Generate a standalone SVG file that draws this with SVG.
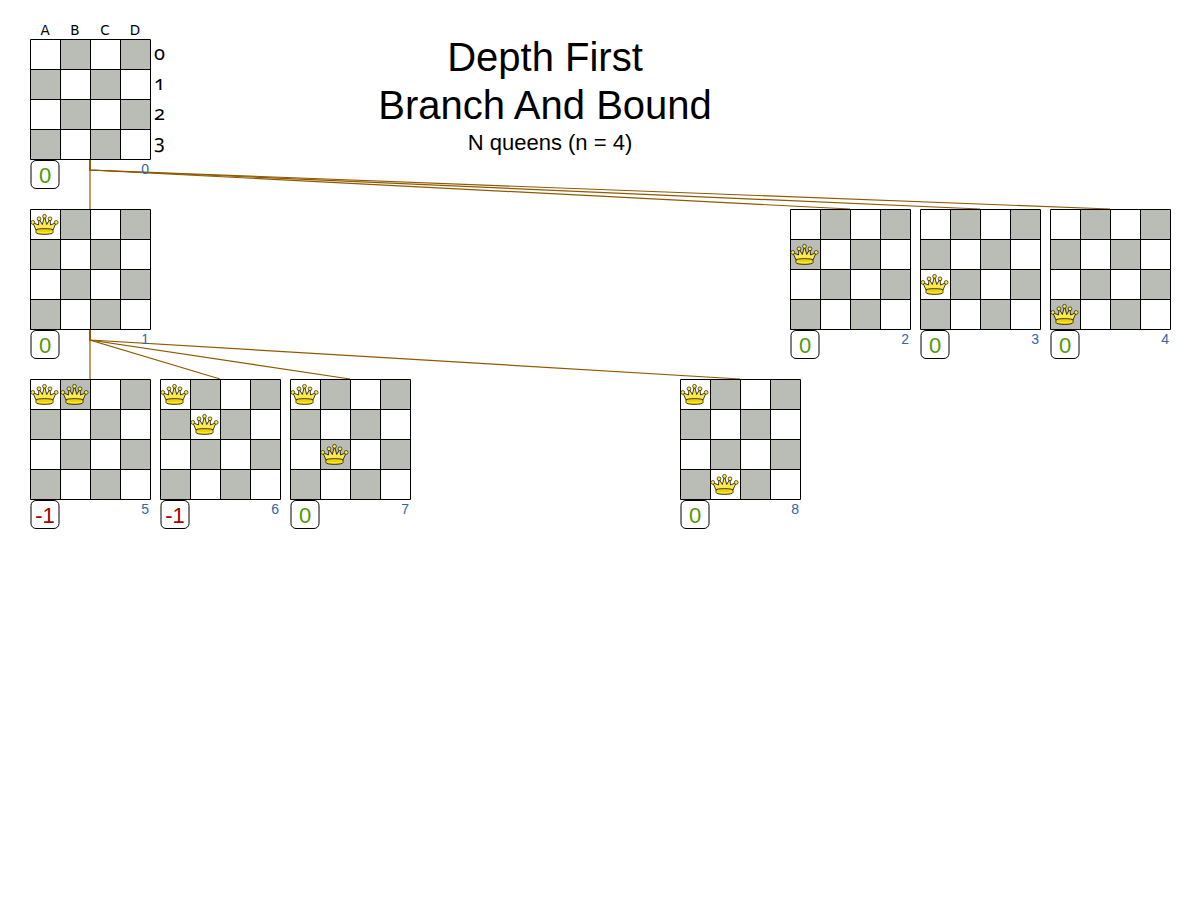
<svg xmlns="http://www.w3.org/2000/svg" width="1200" height="900" viewBox="0 0 1200 900">
<style>
.title{font-family:"Liberation Sans",Arial,sans-serif;fill:#000;text-anchor:middle}
.col{font-family:"DejaVu Sans",sans-serif;font-size:13.5px;fill:#000;text-anchor:middle}
.row{font-family:"Noto Sans","DejaVu Sans",sans-serif;font-size:20px;fill:#000;font-feature-settings:"onum";font-variant-numeric:oldstyle-nums}
.score{fill:#fff;stroke:#000;stroke-width:1}
.sg{font-family:"Liberation Sans",Arial,sans-serif;font-size:22px;fill:#4e9a06;text-anchor:middle}
.sr{font-family:"Liberation Sans",Arial,sans-serif;font-size:22px;fill:#a40000;text-anchor:middle}
.id{font-family:"Liberation Sans",Arial,sans-serif;font-size:14px;fill:#3465a4;text-anchor:end}
.conn{fill:none;stroke:#8f5902;stroke-width:1.2}
</style>
<defs>
<g id="board">
<rect x="0" y="0" width="120" height="120" fill="#fff"/>
<g fill="#babdb6">
<rect x="30" y="0" width="30" height="30"/><rect x="90" y="0" width="30" height="30"/>
<rect x="0" y="30" width="30" height="30"/><rect x="60" y="30" width="30" height="30"/>
<rect x="30" y="60" width="30" height="30"/><rect x="90" y="60" width="30" height="30"/>
<rect x="0" y="90" width="30" height="30"/><rect x="60" y="90" width="30" height="30"/>
</g>
<path d="M0 0H120V120H0Z M30 0V120 M60 0V120 M90 0V120 M0 30H120 M0 60H120 M0 90H120" fill="none" stroke="#000" stroke-width="1"/>
</g>
<symbol id="queen" viewBox="0 0 30 30" width="30" height="30">
<path d="M6 21 L2.8 13.6 L8.5 16 L9 9.8 L12.3 15.5 L14.5 7.3 L16.7 15.5 L20 9.8 L20.5 16 L26.2 13.6 L23 21 Z" fill="#fce94f" stroke="#000" stroke-width="0.75" stroke-linejoin="round"/>
<path d="M6 21 C6 19.2 23 19.2 23 21 L23 23.5 C23 26 6 26 6 23.5 Z" fill="#edd400" stroke="#000" stroke-width="0.75"/>
<path d="M6.6 22.7 C10 24 19 24 22.4 22.7" fill="none" stroke="#fce94f" stroke-width="1"/>
<g fill="#fce94f" stroke="#000" stroke-width="0.6">
<circle cx="2.8" cy="13.4" r="1.9"/><circle cx="9" cy="9.8" r="1.9"/><circle cx="14.5" cy="7.3" r="1.9"/><circle cx="20" cy="9.8" r="1.9"/><circle cx="26.2" cy="13.4" r="1.9"/>
</g>
</symbol>
</defs>
<rect width="1200" height="900" fill="#fff"/>
<g id="title">
<text class="title" x="545" y="71" font-size="40">Depth First</text>
<text class="title" x="545" y="119" font-size="40">Branch And Bound</text>
<text class="title" x="550" y="150" font-size="22">N queens (n = 4)</text>
</g>
<g id="connectors">
<path class="conn" d="M90 159V170L90 209"/>
<path class="conn" d="M90 159V170L850 209"/>
<path class="conn" d="M90 159V170L980 209"/>
<path class="conn" d="M90 159V170L1110 209"/>
<path class="conn" d="M90 329V340L90 379"/>
<path class="conn" d="M90 329V340L220 379"/>
<path class="conn" d="M90 329V340L350 379"/>
<path class="conn" d="M90 329V340L740 379"/>
</g>
<g id="labels">
<text class="col" x="45" y="35">A</text><text class="col" x="75" y="35">B</text><text class="col" x="105" y="35">C</text><text class="col" x="135" y="35">D</text>
<text class="row" x="154" y="60">0</text><text class="row" x="154" y="90">1</text><text class="row" x="154" y="120">2</text><text class="row" x="154" y="149">3</text>
</g>
<g id="node0">
<use href="#board" transform="translate(30.5,39.5)"/>
<rect class="score" x="31" y="160.5" width="28" height="28" rx="5"/>
<text class="sg" x="45" y="183">0</text>
<text class="id" x="149" y="174">0</text>
</g>
<g id="node1">
<use href="#board" transform="translate(30.5,209.5)"/>
<use href="#queen" x="30" y="209"/>
<rect class="score" x="31" y="330.5" width="28" height="28" rx="5"/>
<text class="sg" x="45" y="353">0</text>
<text class="id" x="149" y="344">1</text>
</g>
<g id="node2">
<use href="#board" transform="translate(790.5,209.5)"/>
<use href="#queen" x="790" y="239"/>
<rect class="score" x="791" y="330.5" width="28" height="28" rx="5"/>
<text class="sg" x="805" y="353">0</text>
<text class="id" x="909" y="344">2</text>
</g>
<g id="node3">
<use href="#board" transform="translate(920.5,209.5)"/>
<use href="#queen" x="920" y="269"/>
<rect class="score" x="921" y="330.5" width="28" height="28" rx="5"/>
<text class="sg" x="935" y="353">0</text>
<text class="id" x="1039" y="344">3</text>
</g>
<g id="node4">
<use href="#board" transform="translate(1050.5,209.5)"/>
<use href="#queen" x="1050" y="299"/>
<rect class="score" x="1051" y="330.5" width="28" height="28" rx="5"/>
<text class="sg" x="1065" y="353">0</text>
<text class="id" x="1169" y="344">4</text>
</g>
<g id="node5">
<use href="#board" transform="translate(30.5,379.5)"/>
<use href="#queen" x="30" y="379"/>
<use href="#queen" x="60" y="379"/>
<rect class="score" x="31" y="500.5" width="28" height="28" rx="5"/>
<text class="sr" x="45" y="523">-1</text>
<text class="id" x="149" y="514">5</text>
</g>
<g id="node6">
<use href="#board" transform="translate(160.5,379.5)"/>
<use href="#queen" x="160" y="379"/>
<use href="#queen" x="190" y="409"/>
<rect class="score" x="161" y="500.5" width="28" height="28" rx="5"/>
<text class="sr" x="175" y="523">-1</text>
<text class="id" x="279" y="514">6</text>
</g>
<g id="node7">
<use href="#board" transform="translate(290.5,379.5)"/>
<use href="#queen" x="290" y="379"/>
<use href="#queen" x="320" y="439"/>
<rect class="score" x="291" y="500.5" width="28" height="28" rx="5"/>
<text class="sg" x="305" y="523">0</text>
<text class="id" x="409" y="514">7</text>
</g>
<g id="node8">
<use href="#board" transform="translate(680.5,379.5)"/>
<use href="#queen" x="680" y="379"/>
<use href="#queen" x="710" y="469"/>
<rect class="score" x="681" y="500.5" width="28" height="28" rx="5"/>
<text class="sg" x="695" y="523">0</text>
<text class="id" x="799" y="514">8</text>
</g>
</svg>
